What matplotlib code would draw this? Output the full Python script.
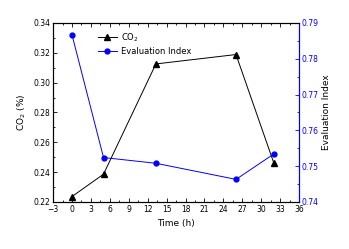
import matplotlib
matplotlib.use("Agg")
import matplotlib.pyplot as plt
from matplotlib.ticker import MultipleLocator

# data
time_h = [0, 5, 13.3, 26, 32]
co2 = [0.2236, 0.2386, 0.3125, 0.3188, 0.246]
eval_index = [0.7867, 0.7524, 0.7508, 0.7463, 0.7534]

plt.rcParams['font.family'] = ['DejaVu Sans']
plt.rcParams['font.size'] = 6

fig = plt.figure(figsize=(3.49, 2.49), dpi=100)
ax = fig.add_axes([0.152, 0.189, 0.705, 0.719])
ax2 = ax.twinx()

l1, = ax.plot(time_h, co2, color='black', lw=0.7, marker='^', ms=4,
              label='CO$_2$')
l2, = ax2.plot(time_h, eval_index, color='blue', lw=0.7, marker='o', ms=3.5,
               label='Evaluation Index')

ax.set_xlim(-3, 36)
ax.set_ylim(0.22, 0.34)
ax2.set_ylim(0.74, 0.79)

ax.xaxis.set_major_locator(MultipleLocator(3))
ax.xaxis.set_minor_locator(MultipleLocator(1.5))
ax.yaxis.set_major_locator(MultipleLocator(0.02))
ax.yaxis.set_minor_locator(MultipleLocator(0.01))
ax2.yaxis.set_major_locator(MultipleLocator(0.01))
ax2.yaxis.set_minor_locator(MultipleLocator(0.005))

ax.tick_params(which='both', direction='in', top=True, labelsize=5.5, pad=2)
ax.tick_params(which='major', length=3, width=0.6)
ax.tick_params(which='minor', length=1.5, width=0.6)
ax2.tick_params(which='both', direction='in', colors='blue', labelsize=5.5, pad=2)
ax2.tick_params(which='major', length=3, width=0.6)
ax2.tick_params(which='minor', length=1.5, width=0.6)

for s in ax.spines.values():
    s.set_linewidth(0.8)
for s in ax2.spines.values():
    s.set_linewidth(0.8)
ax2.spines['right'].set_color('blue')

ax.set_xlabel('Time (h)', fontsize=6.5, labelpad=4)
ax.set_ylabel('CO$_2$ (%)', fontsize=6.5, labelpad=4)
ax2.set_ylabel('Evaluation Index', fontsize=6.5, labelpad=2)

ax.legend(handles=[l1, l2], loc='upper left', bbox_to_anchor=(0.15, 1.0),
          frameon=False, fontsize=6, handlelength=2.2, borderpad=0.5,
          labelspacing=0.4, handletextpad=0.5)

fig.savefig('out.png', dpi=100)
